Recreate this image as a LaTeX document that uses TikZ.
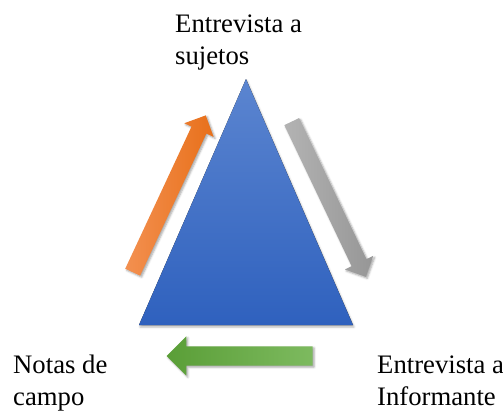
\documentclass[tikz,border=0pt]{standalone}
\usepackage{fontspec}
\setmainfont{Liberation Serif}
\usetikzlibrary{shapes.arrows,shadows.blur}
\definecolor{triTop}{HTML}{5B85D0}
\definecolor{triBot}{HTML}{2F61BE}
\definecolor{orTail}{HTML}{F39050}
\definecolor{orTip}{HTML}{E8701A}
\definecolor{grTail}{HTML}{B3B3B3}
\definecolor{grTip}{HTML}{969696}
\definecolor{gnTail}{HTML}{7DBA5F}
\definecolor{gnTip}{HTML}{5A9E37}
\begin{document}
\begin{tikzpicture}
    [
    x=1pt, y=-1pt,
    label/.style={align=left, inner sep=0pt, anchor=base west,
      font=\fontsize{26.7}{32}\selectfont},
    blockarrow/.style={single arrow, draw=none,
      single arrow tip angle=90, single arrow head indent=0pt,
      blur shadow={shadow xshift=1.5pt, shadow yshift=-1.5pt,
        shadow blur radius=2pt, shadow opacity=35}}
    ]
    \useasboundingbox (0,0) rectangle (503,410);
    % triangle
    \coordinate (apex) at (246,79);
    \coordinate (right) at (353,325);
    \coordinate (left) at (139,325);
    \fill [top color=triTop, bottom color=triBot,
      blur shadow={shadow xshift=1pt, shadow yshift=-2pt,
        shadow blur radius=2pt, shadow opacity=30}]
      (apex) -- (right) -- (left) -- cycle;
    % arrows
    \node (up) at (167.5,197.5) [blockarrow, rotate=65, inner sep=8pt,
      minimum height=173pt, minimum width=32pt,
      single arrow head extend=8pt,
      left color=orTail, right color=orTip] {};
    \node (down) at (327,195.5) [blockarrow, rotate=-64.5, inner sep=8pt,
      minimum height=172pt, minimum width=31pt,
      single arrow head extend=7.5pt,
      left color=grTail, right color=grTip] {};
    \node (back) at (244.5,356) [blockarrow, rotate=180, inner sep=9.5pt,
      minimum height=146pt, minimum width=39pt,
      single arrow head extend=10pt,
      left color=gnTip, right color=gnTail] {};
    % labels (anchored at the last line)
    \node (sujetos) at (175,64) [label] {Entrevista a\\sujetos};
    \node (notas) at (13,405) [label] {Notas de\\campo};
    \node (informante) at (377,405) [label] {Entrevista a\\Informante};
  \end{tikzpicture}
\end{document}
